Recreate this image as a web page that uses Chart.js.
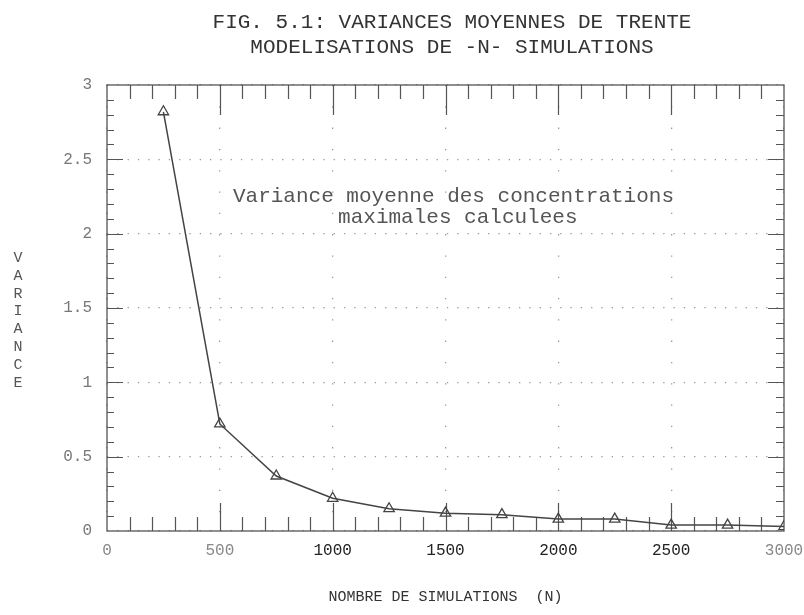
<!DOCTYPE html>
<html>
<head>
<meta charset="utf-8">
<script src="https://cdn.jsdelivr.net/npm/chart.js@4/dist/chart.umd.min.js"></script>
<style>
  html, body { margin: 0; padding: 0; background: #fff; }
  #wrap { width: 804px; height: 615px; }
</style>
</head>
<body>
<div id="wrap"><canvas id="c" width="804" height="615"></canvas></div>
<script>
// ---- data ----
const titleLines = ['FIG. 5.1: VARIANCES MOYENNES DE TRENTE', 'MODELISATIONS DE -N- SIMULATIONS'];
const xAxisTitle = 'NOMBRE DE SIMULATIONS  (N)';
const yAxisTitle = 'VARIANCE';
const annotationLines = ['Variance moyenne des concentrations', 'maximales calculees'];
const nSimulations = [250, 500, 750, 1000, 1250, 1500, 1750, 2000, 2250, 2500, 2750, 3000];
const meanVariance = [2.82, 0.72, 0.37, 0.22, 0.15, 0.12, 0.11, 0.08, 0.08, 0.04, 0.04, 0.03];
const xTickLabels = ['0', '500', '1000', '1500', '2000', '2500', '3000'];
const yTickLabels = ['0', '0.5', '1', '1.5', '2', '2.5', '3'];

const MONO = '"Liberation Mono", "DejaVu Sans Mono", monospace';

const framePlugin = {
  id: 'frame',
  beforeDatasetsDraw(chart) {
    const ctx = chart.ctx, a = chart.chartArea;
    const xs = chart.scales.x, ys = chart.scales.y;
    ctx.save();
    ctx.strokeStyle = '#555';
    ctx.lineWidth = 1.3;
    ctx.strokeRect(a.left, a.top, a.right - a.left, a.bottom - a.top);
    ctx.lineWidth = 1.2;
    ctx.beginPath();
    for (let v = 100; v < 3000; v += 100) {
      const px = Math.round(xs.getPixelForValue(v)) + 0.5;
      const major = v % 500 === 0;
      ctx.moveTo(px, a.bottom); ctx.lineTo(px, a.bottom - (major ? 28 : 14));
      ctx.moveTo(px, a.top); ctx.lineTo(px, a.top + (major ? 30 : 14));
    }
    for (let i = 1; i < 30; i++) {
      const v = i / 10;
      const py = Math.round(ys.getPixelForValue(v)) + 0.5;
      const major = i % 5 === 0;
      ctx.moveTo(a.left, py); ctx.lineTo(a.left + (major ? 16 : 7), py);
      ctx.moveTo(a.right, py); ctx.lineTo(a.right - (major ? 16 : 8), py);
    }
    ctx.stroke();
    ctx.restore();
  },
  afterDraw(chart) {
    const ctx = chart.ctx;
    const xs = chart.scales.x, ys = chart.scales.y;
    ctx.save();
    // main title
    ctx.fillStyle = '#333';
    ctx.font = '21px ' + MONO;
    ctx.textAlign = 'center';
    ctx.textBaseline = 'middle';
    ctx.fillText(titleLines[0], 452, 22);
    ctx.fillText(titleLines[1], 452, 47);
    // stacked y title
    ctx.fillStyle = '#555';
    ctx.font = '15px ' + MONO;
    for (let i = 0; i < yAxisTitle.length; i++) {
      ctx.fillText(yAxisTitle[i], 18, 258 + i * 17.8);
    }
    // annotation
    ctx.fillStyle = '#555';
    ctx.font = '21px ' + MONO;
    ctx.textAlign = 'left';
    ctx.fillText(annotationLines[0], xs.getPixelForValue(558), ys.getPixelForValue(2.25));
    ctx.fillText(annotationLines[1], xs.getPixelForValue(1024), ys.getPixelForValue(2.11));
    ctx.restore();
  }
};

new Chart(document.getElementById('c'), {
  type: 'line',
  data: {
    datasets: [{
      data: nSimulations.map((n, i) => ({ x: n, y: meanVariance[i] })),
      borderColor: '#444',
      borderWidth: 1.5,
      pointStyle: 'triangle',
      pointRadius: 6,
      pointBorderWidth: 1.3,
      pointBorderColor: '#444',
      pointBackgroundColor: 'rgba(255,255,255,0)',
      tension: 0,
      fill: false
    }]
  },
  options: {
    responsive: false,
    animation: false,
    events: [],
    layout: { padding: { top: 85, right: 20, left: 0, bottom: 0 } },
    plugins: { legend: { display: false }, tooltip: { enabled: false }, title: { display: false } },
    scales: {
      x: {
        type: 'linear', min: 0, max: 3000,
        afterFit(s) { s.height = 84; s.paddingLeft = 0; s.paddingRight = 0; },
        afterBuildTicks(s) { s.ticks = xTickLabels.map(t => ({ value: Number(t) })); },
        ticks: {
          callback: (v, i) => xTickLabels[i],
          color: (c) => (c.index === 0 || c.index === 1 || c.index === 6) ? '#888' : '#222',
          font: { family: MONO, size: 16 },
          padding: 10, maxRotation: 0
        },
        grid: { color: '#999', lineWidth: 1.3, drawTicks: false },
        border: { display: false, dash: [1.3, 20] },
        title: { display: true, text: xAxisTitle, color: '#333', font: { family: MONO, size: 15 }, padding: { top: 4, bottom: 9 } }
      },
      y: {
        type: 'linear', min: 0, max: 3,
        afterFit(s) { s.width = 107; s.paddingTop = 0; s.paddingBottom = 0; },
        afterBuildTicks(s) { s.ticks = yTickLabels.map(t => ({ value: Number(t) })); },
        ticks: {
          callback: (v, i) => yTickLabels[i],
          color: '#777',
          font: { family: MONO, size: 16 },
          padding: 15
        },
        grid: { color: '#999', lineWidth: 1.3, drawTicks: false },
        border: { display: false, dash: [1.3, 9] }
      }
    }
  },
  plugins: [framePlugin]
});
</script>
</body>
</html>
